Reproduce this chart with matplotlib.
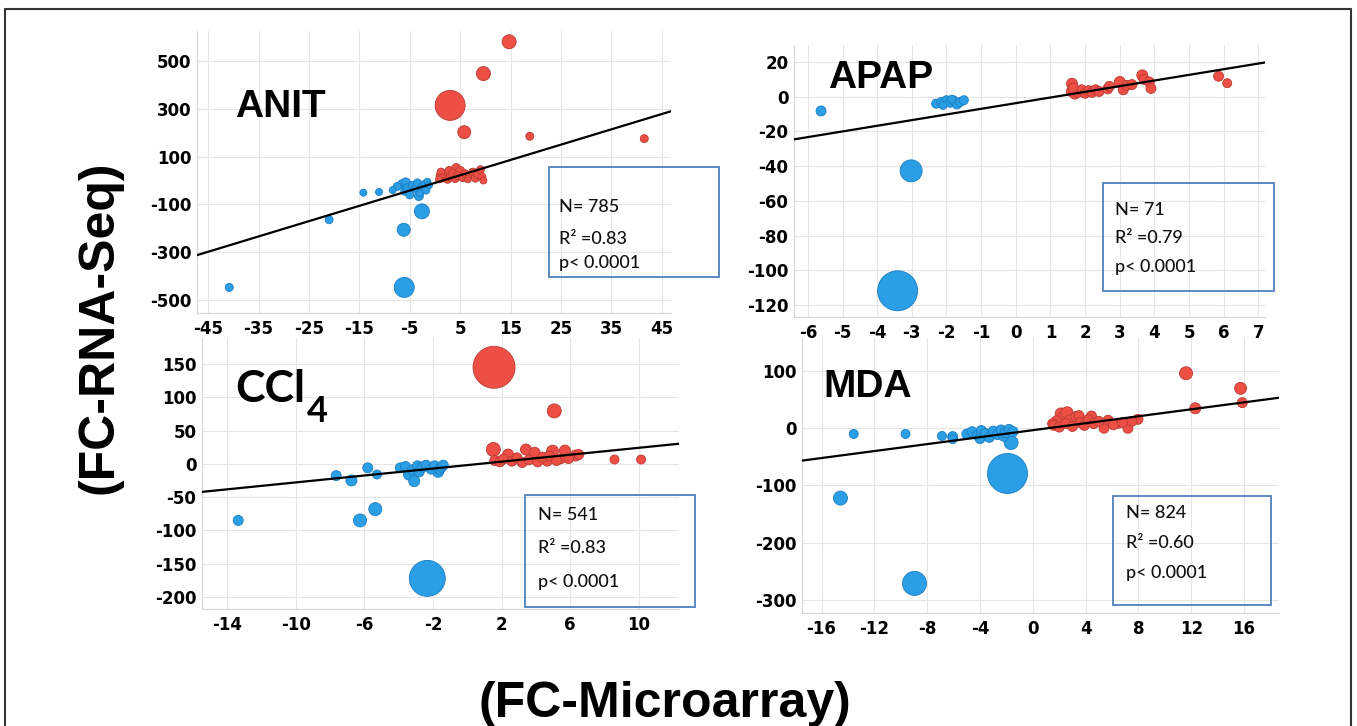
import matplotlib.pyplot as plt
from matplotlib.patches import Rectangle


FIG_W, FIG_H, DPI = 1357, 726, 100

# x = FC (microarray), y = FC (RNA-Seq), w = relative bubble weight
ANIT_X = [3.0, 14.7, 9.6, 5.8, 18.8, 41.5,
	0.8, 1.0, 1.2, 1.5, 2.0, 2.5, 2.8, 3.0, 3.5, 4.0, 4.2, 4.5, 5.0, 5.5,
	6.0, 6.5, 6.8, 7.0, 7.5, 8.0, 8.5, 9.0, 9.3, 9.6,
	-40.8, -21.0, -14.2, -11.1, -6.2, -2.6, -6.1,
	-8.4, -7.5, -6.5, -6.0, -5.8, -5.5, -5.0, -4.5, -4.0, -3.5, -3.2, -3.0,
	-2.5, -2.0, -1.8, -1.5, -1.2]
ANIT_Y = [314, 580, 447, 202, 185, 175,
	5, 20, 35, 10, 25, 5, 42, 15, 30, 8, 52, 20, 40, 12,
	28, 5, 18, 22, 35, 10, 25, 45, 15, 0,
	-447, -164, -51, -48, -206, -129, -447,
	-40, -25, -15, -45, -8, -30, -60, -20, -35, -10, -65, -50,
	-25, -15, -40, -5, -20]
ANIT_W = [15, 7, 7, 6.5, 4, 4,
	3.5, 4, 4, 4, 4.5, 4, 4, 4, 4, 4, 4.5, 4, 4.5, 4,
	4, 3.5, 4, 4, 4, 4, 4, 4, 4, 3.5,
	4, 4, 3.5, 3.5, 6.5, 7.5, 10,
	3.5, 4, 4.5, 4, 4.5, 4, 4, 4, 3.5, 4, 4.5, 4,
	4, 4, 4, 3.5, 3.5]

APAP_X = [-5.62, -3.02, -3.41,
	-2.3, -2.15, -2.1, -2.0, -1.9, -1.85, -1.8, -1.7, -1.6, -1.5,
	1.62, 1.6, 1.7, 1.8, 1.9, 2.0, 2.1, 2.2, 2.3, 2.4, 1.65, 2.65, 2.7,
	3.0, 3.1, 3.2, 3.35, 3.65, 3.7, 3.85, 3.9, 5.85, 6.1]
APAP_Y = [-8.2, -42.7, -111.8,
	-4, -3, -5, -2, -3.5, -1.5, -2, -4.5, -3, -2,
	7.5, 3, 1.5, 2.5, 4, 2, 3.5, 2.5, 4, 3, 5, 4.5, 6,
	8.5, 4, 6.5, 7, 12.3, 10, 8.5, 4.8, 11.8, 7.8]
APAP_W = [5, 11, 20,
	4.5, 4.5, 4, 4.5, 4.5, 4, 4.5, 4.5, 4.5, 4.5,
	5.5, 5, 5, 5, 5, 5, 5, 5, 5, 5, 5, 5, 5,
	5.5, 5, 5, 5, 5.5, 5, 5, 5, 5, 4.5]

CCL4_X = [1.56, 5.07, 1.52, 3.42, 3.93, 4.97, 5.69, 6.31, 2.38, 5.44, 4.66, 8.58, 10.13,
	1.6, 1.9, 2.1, 2.6, 2.9, 3.2, 3.6, 4.1, 4.4, 4.8, 5.2, 5.9, 6.5,
	-13.35, -7.64, -6.75, -5.8, -5.26, -6.25, -5.36, -2.33,
	-3.9, -3.6, -3.4, -3.09, -3.2, -2.9, -2.8, -2.6, -2.4, -2.1, -1.9, -1.7, -1.6, -1.5, -1.4]
CCL4_Y = [145, 79.5, 21.6, 21.6, 16.6, 19, 20, 12.5, 14, 7.5, 4, 6.5, 6.5,
	5, 3, 7, 4, 9, 2, 6, 3, 10, 12, 5, 8, 14,
	-85, -17.7, -25, -6, -16, -85, -68, -172,
	-6, -4, -16, -26, -9, -3, -12, -5, -2, -8, -3, -12, -8, -5, -2]
CCL4_W = [21, 7, 7, 5.5, 5.5, 6, 5.5, 5.5, 5.5, 5, 5, 4.5, 4.5,
	5, 5, 5, 5, 5, 5, 5, 5, 5, 5, 5, 5, 5,
	5, 5, 5.5, 5, 4.5, 6.5, 6.5, 18,
	5, 5, 5.5, 5.5, 5, 5, 5, 5, 5, 5, 5, 5.5, 5, 5, 5]

MDA_X = [11.6, 15.73, 15.86, 12.3, 7.96, 7.2, 5.39, 6.47, 2.14, 4.44,
	1.5, 1.6, 1.8, 2.0, 2.3, 2.5, 2.6, 2.8, 3.0, 3.3, 3.5, 3.6, 3.9, 4.2, 4.6,
	5.0, 5.7, 6.1, 6.8, 7.5,
	-13.56, -9.64, -6.88, -6.07, -6.07, -14.57, -8.96, -1.92, -1.65,
	-5.0, -4.6, -4.2, -4.0, -3.9, -3.6, -3.3, -3.0, -2.7, -2.4, -2.2, -2.1, -1.8, -1.5]
MDA_Y = [96, 69.7, 44.7, 34.8, 15.6, -0.1, 0, 8.6, 25, 21.4,
	8, 5, 12, 2, 18, 8, 27, 14, 3, 20, 22, 10, 5, 15, 8,
	12, 14, 6, 10, 12,
	-10, -10, -13.5, -14.7, -19, -122, -271, -79, -25,
	-10, -6, -12, -18, -4, -9, -16, -5, -11, -3, -14, -8, -2, -6]
MDA_W = [6.5, 6, 5, 5.5, 5, 5, 5, 5, 6, 5,
	5, 5, 5.5, 5, 6, 5, 6, 5.5, 5, 5.5, 5, 5, 5, 5, 5,
	5, 5, 5, 5, 5,
	4.5, 4.5, 4.5, 5, 4.5, 7, 12, 20, 7,
	5, 5, 5, 5, 5, 5, 5, 5, 5, 5, 5, 5, 5, 5]

PANEL_LABELS = ["ANIT", "APAP", "CCl", "MDA"]
N_VALUES = ["785", "71", "541", "824"]
R2_VALUES = ["0.83", "0.79", "0.83", "0.60"]
P_TEXT = "p< 0.0001"
FIT_SLOPES = [6.4, 3.26, 2.6, 3.04]
FIT_INTERCEPTS = [-10.0, -3.7, -1.9, -3.4]

ANIT_XTICKS = [-45, -35, -25, -15, -5, 5, 15, 25, 35, 45]
ANIT_YTICKS = [-500, -300, -100, 100, 300, 500]
APAP_XTICKS = [-6, -5, -4, -3, -2, -1, 0, 1, 2, 3, 4, 5, 6, 7]
APAP_YTICKS = [-120, -100, -80, -60, -40, -20, 0, 20]
CCL4_XTICKS = [-14, -10, -6, -2, 2, 6, 10]
CCL4_YTICKS = [-200, -150, -100, -50, 0, 50, 100, 150]
MDA_XTICKS = [-16, -12, -8, -4, 0, 4, 8, 12, 16]
MDA_YTICKS = [-300, -200, -100, 0, 100]

BLUE = "#2B9FE6"
BLUE_EDGE = "#1C7CC0"
RED = "#EE4F45"
RED_EDGE = "#B83A33"
BOX_BLUE = "#4F81BD"
GRID = "#E6E6E6"


def toFig(x, y):
	return x / FIG_W, 1 - y / FIG_H


def getPanels():
	# pixel layout: axes (left, top, right, bottom)
	return [
		{
			"x": ANIT_X, "y": ANIT_Y, "w": ANIT_W,
			"xticks": ANIT_XTICKS, "yticks": ANIT_YTICKS,
			"rect": (197, 31, 671, 313), "xlim": (-47.2, 46.8), "ylim": (-554, 625),
			"label_xy": (235, 117), "label_font": "Liberation Sans", "label_size": 28,
			"box": (549, 167, 719, 277), "lines_y": (207, 239, 263), "text_x": 559,
		},
		{
			"x": APAP_X, "y": APAP_Y, "w": APAP_W,
			"xticks": APAP_XTICKS, "yticks": APAP_YTICKS,
			"rect": (794, 45, 1265, 317), "xlim": (-6.4, 7.19), "ylim": (-126.9, 29.8),
			"label_xy": (828, 88), "label_font": "Liberation Sans", "label_size": 28,
			"box": (1103, 183, 1274, 291), "lines_y": (210, 238, 267), "text_x": 1115,
		},
		{
			"x": CCL4_X, "y": CCL4_Y, "w": CCL4_W,
			"xticks": CCL4_XTICKS, "yticks": CCL4_YTICKS,
			"rect": (202, 338, 679, 609), "xlim": (-15.46, 12.34), "ylim": (-218, 189),
			"label_xy": (235, 402), "label_font": "Lato", "label_size": 32,
			"box": (525, 495, 695, 607), "lines_y": (515, 548, 582), "text_x": 538,
		},
		{
			"x": MDA_X, "y": MDA_Y, "w": MDA_W,
			"xticks": MDA_XTICKS, "yticks": MDA_YTICKS,
			"rect": (802, 338, 1279, 613), "xlim": (-17.48, 18.64), "ylim": (-322.7, 157.6),
			"label_xy": (823, 397), "label_font": "Liberation Sans", "label_size": 28,
			"box": (1113, 496, 1271, 605), "lines_y": (513, 543, 573), "text_x": 1126,
		},
	]


def drawPanel(fig, index, panel):
	left, top, right, bottom = panel["rect"]
	fl, fb = toFig(left, bottom)
	ax = fig.add_axes([fl, fb, (right - left) / FIG_W, (bottom - top) / FIG_H])
	ax.set_facecolor("none")

	points = sorted(zip(panel["x"], panel["y"], panel["w"]), key=lambda p: -p[2])
	xs = [p[0] for p in points]
	ys = [p[1] for p in points]
	sizes = [(2 * p[2] * 72 / DPI) ** 2 for p in points]
	colors = [RED if x > 0 else BLUE for x in xs]
	edges = [RED_EDGE if x > 0 else BLUE_EDGE for x in xs]
	ax.scatter(xs, ys, s=sizes, c=colors, edgecolors=edges, linewidths=0.6, zorder=2)

	x0, x1 = panel["xlim"]
	slope, intercept = FIT_SLOPES[index], FIT_INTERCEPTS[index]
	ax.plot([x0, x1], [slope * x0 + intercept, slope * x1 + intercept], color="black", linewidth=1.6, zorder=3)

	ax.set_xlim(x0, x1)
	ax.set_ylim(*panel["ylim"])
	ax.set_xticks(panel["xticks"])
	ax.set_yticks(panel["yticks"])
	ax.grid(True, color=GRID, linewidth=0.8)
	ax.set_axisbelow(True)
	for side in ("top", "right"):
		ax.spines[side].set_visible(False)
	for side in ("left", "bottom"):
		ax.spines[side].set_color("#D5D5D5")
		ax.spines[side].set_linewidth(0.8)
	ax.tick_params(axis="both", length=0, labelsize=12)
	ax.tick_params(axis="x", pad=5)
	ax.tick_params(axis="y", pad=4)
	for label in ax.get_xticklabels() + ax.get_yticklabels():
		label.set_fontweight("bold")
		label.set_fontfamily("DejaVu Sans")

	# compound name
	lx, ly = toFig(*panel["label_xy"])
	name = fig.text(lx, ly, PANEL_LABELS[index], fontsize=panel["label_size"], fontweight="bold",
		family=panel["label_font"], ha="left", va="baseline", color="black")
	if PANEL_LABELS[index] == "CCl":
		ax.annotate("4", xy=(1, 0), xycoords=name, xytext=(1, -9), textcoords="offset points",
			fontsize=26, fontweight="bold", family="Lato", ha="left", va="baseline")

	# statistics box
	bl, bt, br, bb = panel["box"]
	rx, ry = toFig(bl, bb)
	fig.add_artist(Rectangle((rx, ry), (br - bl) / FIG_W, (bb - bt) / FIG_H, transform=fig.transFigure,
		fill=False, edgecolor=BOX_BLUE, linewidth=1.3))
	texts = [f"N= {N_VALUES[index]}", f"R² ={R2_VALUES[index]}", P_TEXT]
	for text, line_y in zip(texts, panel["lines_y"]):
		tx, ty = toFig(panel["text_x"], line_y)
		fig.text(tx, ty, text, fontsize=13, family="Lato", fontweight="medium", color="#111111",
			ha="left", va="center")


def main():
	plt.rcParams["axes.unicode_minus"] = False
	fig = plt.figure(figsize=(FIG_W / DPI, FIG_H / DPI), dpi=DPI)
	fig.patch.set_facecolor("white")

	for index, panel in enumerate(getPanels()):
		drawPanel(fig, index, panel)

	# axis titles shared by all four panels
	ax_x, ax_y = toFig(100, 327)
	fig.text(ax_x, ax_y, "(FC-RNA-Seq)", rotation=90, fontsize=36, fontweight="bold",
		family="Liberation Sans", ha="center", va="center")
	bx, by = toFig(665, 717)
	fig.text(bx, by, "(FC-Microarray)", fontsize=36, fontweight="bold",
		family="Liberation Sans", ha="center", va="baseline")

	# outer frame (left, top, right)
	fx0, fy0 = toFig(5, 9)
	fx1, fy1 = toFig(1351, FIG_H + 5)
	fig.add_artist(plt.Line2D([fx0, fx0, fx1, fx1], [fy1, fy0, fy0, fy1], transform=fig.transFigure,
		color="#333333", linewidth=1.5))

	fig.savefig("out.png", dpi=DPI)
	plt.close(fig)


if __name__ == "__main__":
	main()
